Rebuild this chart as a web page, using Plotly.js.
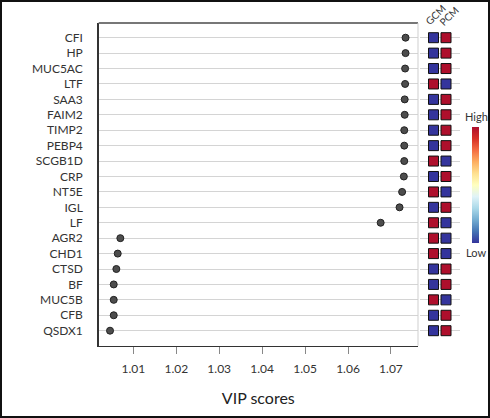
<!DOCTYPE html>
<html><head><meta charset="utf-8">
<script src="https://cdn.plot.ly/plotly-3.0.1.min.js"></script>
<style>
html,body{margin:0;padding:0;background:#fff;}
#wrap{position:relative;width:490px;height:418px;}
#chart{width:490px;height:418px;}
#frame{position:absolute;left:0;top:0;width:490px;height:418px;box-sizing:border-box;border:2px solid #111;pointer-events:none;}
</style></head><body>
<div id="wrap"><div id="chart"></div><div id="frame"></div></div>
<script>
// ---- data ----
const genes = ['CFI','HP','MUC5AC','LTF','SAA3','FAIM2','TIMP2','PEBP4','SCGB1D','CRP',
               'NT5E','IGL','LF','AGR2','CHD1','CTSD','BF','MUC5B','CFB','QSDX1'];
const vipScores = [1.0734,1.0734,1.0733,1.0733,1.0732,1.0732,1.0731,1.0731,1.0731,1.0730,
                   1.0726,1.0720,1.0676,1.00697,1.00636,1.00604,1.00543,1.00543,1.00543,1.00457];
const groups = ['GCM','PCM'];
const gcmLevel = [0,0,0,1,0,0,0,0,1,0,1,0,1,1,1,0,0,1,0,0]; // 1 = High, 0 = Low
const pcmLevel = [1,1,1,0,1,1,1,1,0,1,0,1,0,0,0,1,1,0,1,1];
const xTicks = [1.01,1.02,1.03,1.04,1.05,1.06,1.07];
const xTickText = ['1.01','1.02','1.03','1.04','1.05','1.06','1.07'];

// ---- geometry helpers (pixels -> paper) ----
const W = 490, H = 418;
const px = v => v / W, py = v => 1 - v / H;

const FONT = 'Lato, "Open Sans", sans-serif';
const TXT = '#333';
const colorscale = [[0,'#34349c'],[0.1,'#4575b4'],[0.2,'#74add1'],[0.3,'#abd9e9'],[0.4,'#e0f3f8'],
  [0.5,'#ffffbf'],[0.6,'#fee090'],[0.7,'#fdae61'],[0.8,'#f46d43'],[0.9,'#d73027'],[1,'#ae0f2c']];

const dots = {
  type:'scatter', mode:'markers', x: vipScores, y: genes, xaxis:'x', yaxis:'y',
  marker:{size:7, color:'#4d4d4d', line:{color:'#222', width:1}},
  hoverinfo:'x+y', showlegend:false
};

const hmX = [], hmY = [], hmC = [];
genes.forEach((g,i)=>{
  hmX.push(groups[0]); hmY.push(g); hmC.push(gcmLevel[i]);
  hmX.push(groups[1]); hmY.push(g); hmC.push(pcmLevel[i]);
});
const heat = {
  type:'scatter', mode:'markers', x: hmX, y: hmY, xaxis:'x2', yaxis:'y',
  marker:{symbol:'square', size:10, color:hmC, cmin:0, cmax:1, colorscale:colorscale,
    line:{color:'#111', width:1}, showscale:true,
    colorbar:{thickness:7, len:116, lenmode:'pixels', x:px(472.3), xanchor:'left', xpad:0,
      y:py(184.7), yanchor:'middle', ypad:0, outlinewidth:0, ticks:'', showticklabels:false}},
  showlegend:false, hoverinfo:'y+marker.color'
};

const layout = {
  width:W, height:H, margin:{l:0,r:0,t:0,b:0}, paper_bgcolor:'#fff', plot_bgcolor:'#fff',
  font:{family:FONT, color:TXT, size:12},
  xaxis:{domain:[px(98.7), px(418)], range:[1.00193, 1.0763], tickvals:xTicks, ticktext:xTickText,
    showgrid:false, zeroline:false, showline:true, linecolor:'#333', linewidth:1.5,
    ticks:'outside', ticklen:7, tickcolor:'#888', tickwidth:1, ticklabelstandoff:4,
    tickfont:{family:FONT, size:12, color:TXT},
    title:{text:'VIP scores', font:{family:FONT, size:16, color:'#222'}, standoff:18}},
  yaxis:{domain:[py(345.7), py(23)], type:'category', categoryorder:'array', categoryarray:genes,
    range:[19.973, -0.953], showgrid:true, gridcolor:'#d4d4d4', gridwidth:1,
    showline:true, linecolor:'#333', linewidth:1.5, zeroline:false, ticks:'', ticklabelstandoff:12,
    tickfont:{family:FONT, size:12, color:TXT}},
  xaxis2:{domain:[px(420), px(460)], anchor:'y', type:'category', categoryarray:groups,
    range:[-1.08, 2.12], visible:false},
  shapes:[
    {type:'line', xref:'paper', yref:'paper', x0:px(98.7), x1:px(418), y0:py(23), y1:py(23),
      line:{color:'#777', width:2}},
    {type:'line', xref:'paper', yref:'paper', x0:px(418), x1:px(418), y0:py(23), y1:py(345.7),
      line:{color:'#cfcfcf', width:1}}
  ],
  annotations:[
    {text:'GCM', xref:'paper', yref:'paper', x:px(435), y:py(15), xanchor:'center', yanchor:'middle',
      textangle:-45, showarrow:false, font:{family:FONT, size:10, color:TXT}},
    {text:'PCM', xref:'paper', yref:'paper', x:px(449), y:py(16), xanchor:'center', yanchor:'middle',
      textangle:-45, showarrow:false, font:{family:FONT, size:10, color:TXT}},
    {text:'High', xref:'paper', yref:'paper', x:px(476), y:py(116.7), xanchor:'center', yanchor:'middle',
      showarrow:false, font:{family:FONT, size:11, color:TXT}},
    {text:'Low', xref:'paper', yref:'paper', x:px(476), y:py(252.7), xanchor:'center', yanchor:'middle',
      showarrow:false, font:{family:FONT, size:11, color:TXT}}
  ]
};

Plotly.newPlot('chart', [dots, heat], layout, {staticPlot:true, displayModeBar:false});
</script>
</body></html>
